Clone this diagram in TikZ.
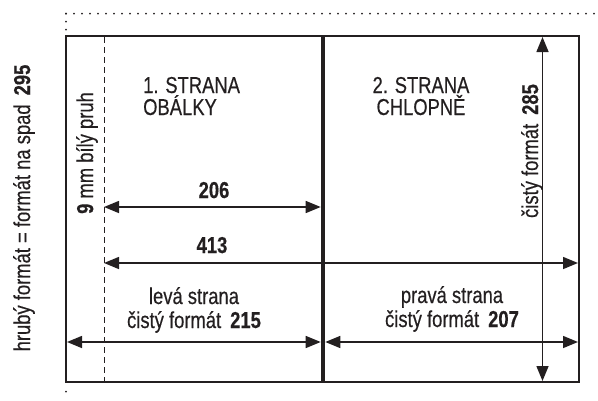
\documentclass[tikz,border=0pt]{standalone}
\usepackage{fontspec}
\setmainfont{Liberation Sans}[FakeStretch=0.8,FakeBold=0.4]
\usetikzlibrary{arrows.meta}
\definecolor{ink}{RGB}{35,31,32}
\begin{document}
\begin{tikzpicture}[x=1pt,y=-1pt,
  lbl/.style={inner sep=0pt, text=ink, font=\fontsize{23}{22}\selectfont},
  lbl2/.style={inner sep=0pt, text=ink, font=\fontsize{23}{24}\selectfont, align=center},
  frame/.style={draw=ink, line width=2.6pt},
  dim/.style={draw=ink, line width=1.5pt, {Triangle[length=15pt,width=12pt]}-{Triangle[length=15pt,width=12pt]}},
  bleed/.style={draw=ink, line width=2pt, line cap=round, dash pattern=on 0pt off 8pt},
  strip/.style={draw=ink, line width=1pt, dash pattern=on 6pt off 4pt}]
\useasboundingbox (0,0) rectangle (598,400);
% bleed (dotted) frame
\coordinate (bTL) at (66,13.5);
\coordinate (bTR) at (598,13.5);
\coordinate (bL1) at (66,36);
\coordinate (bB0) at (66,391.5);
\coordinate (bB1) at (66,399);
\draw[bleed] (bTL) -- (bTR);
\draw[bleed] (bTL) -- (bL1);
\draw[bleed] (bB0) -- (bB1);
% white strip
\coordinate (wT) at (104,37);
\coordinate (wB) at (104,381);
\draw[strip] (wT) -- (wB);
% outer box and fold
\coordinate (TL) at (66,36);
\coordinate (BR) at (579,382);
\draw[frame] (TL) rectangle (BR);
\coordinate (mT1) at (321.8,36);
\coordinate (mB1) at (321.8,382);
\coordinate (mT2) at (324.2,36);
\coordinate (mB2) at (324.2,382);
\draw[draw=ink, line width=2.2pt] (mT1) -- (mB1);
\draw[draw=ink, line width=2.2pt] (mT2) -- (mB2);
% dimension arrows
\coordinate (a206L) at (104,207);
\coordinate (a206R) at (320.7,207);
\draw[dim] (a206L) -- (a206R);
\coordinate (a413L) at (104,263);
\coordinate (a413R) at (578,263);
\draw[dim] (a413L) -- (a413R);
\coordinate (a215L) at (67,342);
\coordinate (a215R) at (320.7,342);
\draw[dim] (a215L) -- (a215R);
\coordinate (a207L) at (325.3,342);
\coordinate (a207R) at (578,342);
\draw[dim] (a207L) -- (a207R);
\coordinate (vT) at (542.5,37);
\coordinate (vB) at (542.5,381);
\draw[dim] (vB) -- (vT);
% texts
\node[lbl, align=left, anchor=base west] (s1) at (143,115) {1. STRANA\\OBÁLKY};
\node[lbl, align=center, anchor=base] (s2) at (421,115) {2. STRANA\\CHLOPNĚ};
\node[lbl, anchor=base] (n206) at (214,198) {\textbf{206}};
\node[lbl, anchor=base] (n413) at (212,253) {\textbf{413}};
\node[lbl2, anchor=base] (lev) at (194,328) {levá strana\\čistý formát\hspace{9pt}\textbf{215}};
\node[lbl2, anchor=base] (prav) at (452,327) {pravá strana\\čistý formát\hspace{9pt}\textbf{207}};
\node[lbl, rotate=90] (hrub) at (24,208) {hrubý formát = formát na spad\hspace{9pt}\textbf{295}};
\node[lbl, rotate=90] (pruh) at (87,153) {\textbf{9} mm bílý pruh};
\node[lbl, rotate=90] (cist) at (532,151) {čistý formát\hspace{9pt}\textbf{285}};
\end{tikzpicture}
\end{document}
